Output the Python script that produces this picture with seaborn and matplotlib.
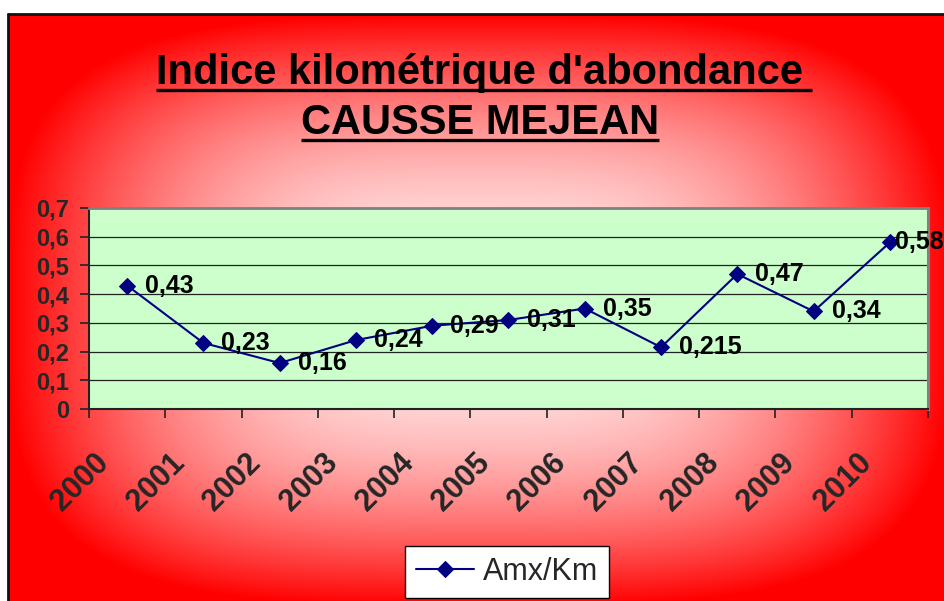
import numpy as np
import pandas as pd
import matplotlib
matplotlib.use("Agg")
import matplotlib.pyplot as plt
import matplotlib.transforms as mtransforms
from matplotlib.lines import Line2D
import seaborn as sns

# ---------------- data ----------------
years = ["2000", "2001", "2002", "2003", "2004", "2005",
         "2006", "2007", "2008", "2009", "2010"]
values = [0.43, 0.23, 0.16, 0.24, 0.29, 0.31, 0.35, 0.215, 0.47, 0.34, 0.58]
value_labels = ["0,43", "0,23", "0,16", "0,24", "0,29", "0,31",
                "0,35", "0,215", "0,47", "0,34", "0,58"]
series_name = "Amx/Km"
yticks = [0, 0.1, 0.2, 0.3, 0.4, 0.5, 0.6, 0.7]
ytick_labels = ["0", "0,1", "0,2", "0,3", "0,4", "0,5", "0,6", "0,7"]
title_line1 = "Indice kilométrique d'abondance"
title_line2 = "CAUSSE MEJEAN"

df = pd.DataFrame({"year": years, "value": values})

sns.set_theme(style="white")
plt.rcParams["font.family"] = ["Liberation Sans", "DejaVu Sans"]

W, H = 945, 601
fig = plt.figure(figsize=(W / 100, H / 100), dpi=100)
fig.patch.set_facecolor("white")

# ---------------- gradient background (chart area) ----------------
L, T = 8, 14
bg = fig.add_axes([L / W, 0, (W - L) / W, (H - T) / H])
xs = np.linspace(L, W, 600)
ys = np.linspace(T, H, 400)
X, Y = np.meshgrid(xs, ys)
cx, cy, hx, hy = 479, 310, 471, 296
p = 3.5
t = ((np.abs(X - cx) / hx) ** p + (np.abs(Y - cy) / hy) ** p) ** (1 / p)
t = np.clip(t, 0, 1)
f = 1 - t ** 2  # white fraction
img = np.zeros(X.shape + (3,))
img[..., 0] = 1.0
img[..., 1] = f * 0.93
img[..., 2] = f * 0.93
bg.imshow(img, extent=[L, W, H, T], aspect="auto", origin="upper",
          interpolation="bilinear")
bg.set_xlim(L, W)
bg.set_ylim(H, T)
bg.axis("off")

# chart area border (top and left visible)
fig.add_artist(Line2D([L / W, 1], [1 - T / H, 1 - T / H], color="#111111",
                      lw=2, transform=fig.transFigure))
fig.add_artist(Line2D([L / W, L / W], [0, 1 - T / H], color="#111111",
                      lw=2, transform=fig.transFigure))

# ---------------- plot area ----------------
x0, x1, y_top, y_bot = 89, 928, 208, 409
ax = fig.add_axes([x0 / W, 1 - y_bot / H, (x1 - x0) / W, (y_bot - y_top) / H])
ax.set_zorder(2)
ax.set_facecolor("#CCFFCC")

sns.lineplot(data=df, x="year", y="value", ax=ax, color="#000080",
             marker="D", markersize=8, markeredgecolor="#000080",
             linewidth=1.5, label=series_name, sort=False)

ax.set_xlim(-0.5, len(years) - 0.5)
ax.set_ylim(0, 0.7)
ax.set_xlabel("")
ax.set_ylabel("")

ax.set_yticks(yticks)
ax.set_yticklabels(ytick_labels, fontsize=17, fontweight="bold")
ax.tick_params(axis="y", direction="out", length=6.5, width=1.2,
               color="#222222", pad=8, left=True)
ax.yaxis.grid(True, color="#222222", linewidth=0.9)
ax.xaxis.grid(False)
ax.set_axisbelow(True)

ax.set_xticks(range(len(years)))
ax.set_xticklabels(years, fontsize=22, fontweight="bold")
ax.set_xticks(np.arange(-0.5, len(years), 1), minor=True)
ax.tick_params(axis="x", which="major", length=0, pad=0, bottom=True)
ax.tick_params(axis="x", which="minor", direction="out", length=6.5,
               width=1.2, color="#222222", bottom=True)
offset = mtransforms.ScaledTranslation(-0.23, -0.49, fig.dpi_scale_trans)
for lab in ax.get_xticklabels():
    lab.set_rotation(45)
    lab.set_ha("right")
    lab.set_va("center")
    lab.set_rotation_mode("anchor")
    lab.set_transform(lab.get_transform() + offset)

for name, sp in ax.spines.items():
    sp.set_visible(True)
ax.spines["left"].set_color("#222222")
ax.spines["bottom"].set_color("#222222")
ax.spines["left"].set_linewidth(1.5)
ax.spines["bottom"].set_linewidth(1.5)
ax.spines["top"].set_color("#808080")
ax.spines["right"].set_color("#808080")
ax.spines["top"].set_linewidth(2)
ax.spines["right"].set_linewidth(2.2)

# data labels
for i, (v, lab) in enumerate(zip(values, value_labels)):
    dx = 3.5 if i == len(values) - 1 else 13
    ax.annotate(lab, (i, v), xytext=(dx, 0), textcoords="offset points",
                ha="left", va="center", fontsize=18, fontweight="bold",
                color="black", annotation_clip=False, zorder=5)

# legend
handles, labels = ax.get_legend_handles_labels()
ax.get_legend().remove()
leg = fig.legend(handles, labels, loc="center",
                 bbox_to_anchor=(507 / W, 1 - 572 / H),
                 fontsize=22, frameon=True, fancybox=False,
                 edgecolor="black", facecolor="white", framealpha=1,
                 handlelength=1.9, handletextpad=0.3, borderpad=0.35)
leg.get_frame().set_linewidth(1)
leg.set_zorder(5)

# ---------------- titles with underline ----------------
t1 = fig.text(479 / W, 1 - 84 / H, title_line1, ha="center", va="baseline",
              fontsize=30, fontweight="bold", color="black")
t2 = fig.text(480 / W, 1 - 134 / H, title_line2, ha="center", va="baseline",
              fontsize=30, fontweight="bold", color="black")
fig.canvas.draw()
r = fig.canvas.get_renderer()
for txt, base, extra in [(t1, 84, 10), (t2, 134, 0)]:
    bb = txt.get_window_extent(renderer=r)
    yline = 1 - (base + 5.5) / H
    fig.add_artist(Line2D([bb.x0 / W, (bb.x1 + extra) / W], [yline, yline],
                          color="black", lw=2.4, transform=fig.transFigure,
                          solid_capstyle="butt"))

fig.savefig("out.png", dpi=100)
